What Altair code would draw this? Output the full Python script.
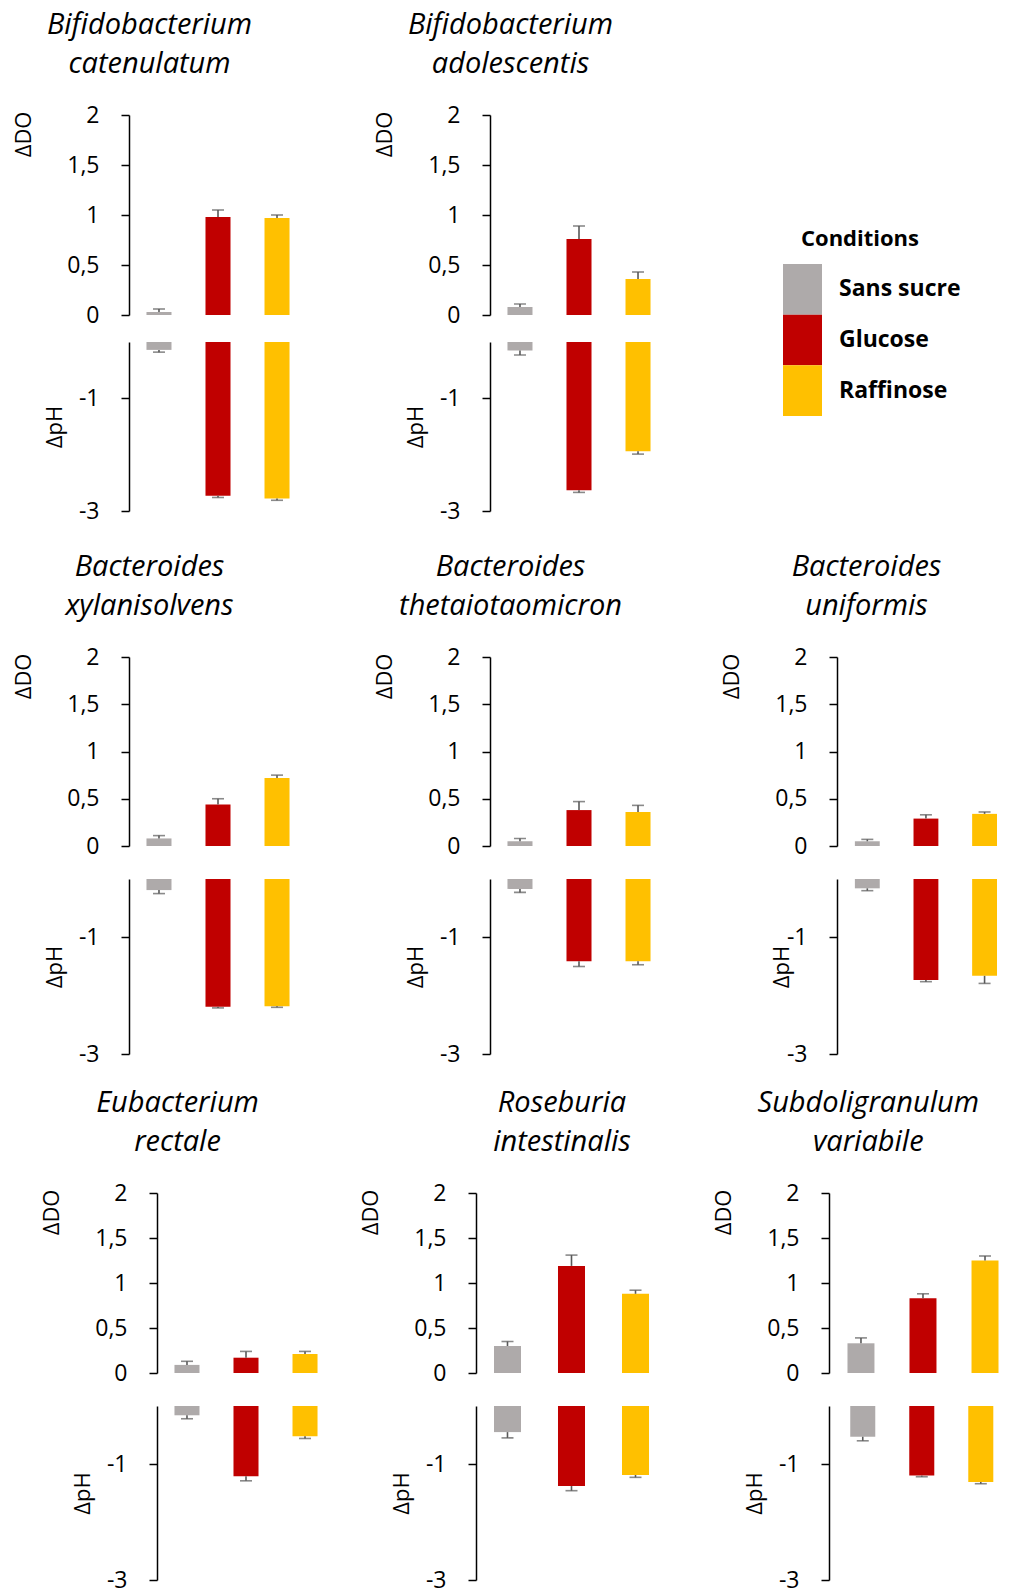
import altair as alt
import pandas as pd

# ---------------- data ----------------
title_line1 = ["Bifidobacterium", "Bifidobacterium", "Bacteroides", "Bacteroides",
               "Bacteroides", "Eubacterium", "Roseburia", "Subdoligranulum"]
title_line2 = ["catenulatum", "adolescentis", "xylanisolvens", "thetaiotaomicron",
               "uniformis", "rectale", "intestinalis", "variabile"]
conditions = ["Sans sucre", "Glucose", "Raffinose"]
colors = ["#AEAAAA", "#C00000", "#FFC000"]

do_sans_sucre = [0.03, 0.08, 0.08, 0.05, 0.05, 0.09, 0.30, 0.33]
do_glucose = [0.98, 0.76, 0.44, 0.38, 0.29, 0.17, 1.19, 0.83]
do_raffinose = [0.97, 0.36, 0.72, 0.36, 0.34, 0.21, 0.88, 1.25]
do_err_sans_sucre = [0.03, 0.03, 0.03, 0.03, 0.02, 0.04, 0.05, 0.06]
do_err_glucose = [0.07, 0.13, 0.06, 0.09, 0.04, 0.07, 0.12, 0.05]
do_err_raffinose = [0.03, 0.07, 0.03, 0.07, 0.02, 0.03, 0.04, 0.05]

ph_sans_sucre = [-0.14, -0.15, -0.19, -0.17, -0.16, -0.16, -0.45, -0.53]
ph_glucose = [-2.73, -2.63, -2.19, -1.41, -1.73, -1.21, -1.38, -1.20]
ph_raffinose = [-2.78, -1.94, -2.18, -1.41, -1.66, -0.52, -1.19, -1.31]
ph_err_sans_sucre = [0.04, 0.08, 0.06, 0.06, 0.04, 0.06, 0.10, 0.07]
ph_err_glucose = [0.03, 0.04, 0.02, 0.09, 0.03, 0.08, 0.08, 0.02]
ph_err_raffinose = [0.03, 0.05, 0.02, 0.06, 0.13, 0.04, 0.04, 0.03]

# ---------------- table ----------------
rows = []
series = [
    (conditions[0], do_sans_sucre, do_err_sans_sucre, ph_sans_sucre, ph_err_sans_sucre),
    (conditions[1], do_glucose, do_err_glucose, ph_glucose, ph_err_glucose),
    (conditions[2], do_raffinose, do_err_raffinose, ph_raffinose, ph_err_raffinose),
]
for i in range(len(title_line1)):
    for cond, dv, de, pv, pe in series:
        rows.append({"sp": i, "condition": cond, "do": dv[i], "do_hi": dv[i] + de[i],
                     "ph": pv[i], "ph_lo": pv[i] - pe[i]})
df = pd.DataFrame(rows)

FONT = "Open Sans"
ERR = "#595959"
NOVIEW = alt.ViewBackground(stroke="transparent", strokeWidth=0)

color_enc = alt.Color("condition:N", scale=alt.Scale(domain=conditions, range=colors), legend=None)

# per-panel layout tweaks (pixels / band-scale settings)
title_dx = {0: -10, 1: -10, 2: -10, 3: -10, 4: 8, 5: -10, 6: 49, 7: 13}
ph_title_x = {4: -44}
STD = dict(width=178, pad_inner=0.576, pad_outer=0.296, align=0.5)
COL3 = dict(width=160, pad_inner=0.576, pad_outer=0.1525, align=1)
WIDE = dict(width=191, pad_inner=0.578, pad_outer=0.281, align=0.5)
SUB_DO = dict(width=169.5, pad_inner=0.565, pad_outer=0.149, align=1)
SUB_PH = dict(width=164.3, pad_inner=0.576, pad_outer=0.18, align=1)


def axis_common(**kw):
    base = dict(grid=False, tickSize=8, tickWidth=1.5, domainWidth=1.5,
                domainColor="black", tickColor="black", labelColor="black",
                titleColor="black", labelFont=FONT, titleFont=FONT,
                labelFontSize=23, titleFontSize=22, titleFontWeight="normal",
                labelPadding=22, titleAngle=-90, titleBaseline="bottom")
    base.update(kw)
    return alt.Axis(**base)


def xenc(g):
    xs = alt.Scale(domain=conditions, paddingInner=g["pad_inner"],
                   paddingOuter=g["pad_outer"], align=g["align"])
    return alt.X("condition:N", scale=xs, axis=None, sort=conditions)


def do_panel(i, h, g=STD):
    base = alt.Chart(df).transform_filter(alt.datum.sp == i)
    x = xenc(g)
    do_axis = axis_common(values=[0, 0.5, 1, 1.5, 2],
                          labelExpr="replace(format(datum.value, '~g'), '.', ',')",
                          title="ΔDO", titleX=-94, titleY=-4, titleAlign="right")
    sc = alt.Scale(domain=[0, 2], nice=False, zero=True)
    bar = base.mark_bar().encode(x=x, y=alt.Y("do:Q", scale=sc, axis=do_axis), color=color_enc)
    rule = base.mark_rule(color=ERR, strokeWidth=1.6).encode(
        x=x, y=alt.Y("do:Q", scale=sc, axis=do_axis), y2="do_hi:Q")
    cap = base.mark_tick(color=ERR, orient="horizontal", size=12, thickness=1.6).encode(
        x=x, y=alt.Y("do_hi:Q", scale=sc, axis=do_axis))
    return alt.layer(bar, rule, cap).properties(
        width=g["width"], height=h, view=NOVIEW,
        title=alt.TitleParams(text=title_line1[i], subtitle=title_line2[i],
                              font=FONT, fontSize=29, fontStyle="italic", fontWeight="normal",
                              color="black", subtitleFont=FONT, subtitleFontSize=29,
                              subtitleFontStyle="italic", subtitleColor="black",
                              subtitlePadding=10.5, anchor="middle", frame="bounds",
                              offset=25, dx=title_dx[i]))


def ph_panel(i, h, g=STD):
    base = alt.Chart(df).transform_filter(alt.datum.sp == i)
    x = xenc(g)
    ph_axis = axis_common(values=[-1, -3],
                          labelExpr="replace(format(datum.value, '~g'), '\u2212', '-')",
                          title="ΔpH", titleX=ph_title_x.get(i, -63), titleAnchor="middle")
    sc = alt.Scale(domain=[-3, 0], nice=False)
    pbar = base.mark_bar().encode(x=x, y=alt.Y("ph:Q", scale=sc, axis=ph_axis), color=color_enc)
    prule = base.mark_rule(color=ERR, strokeWidth=1.6).encode(
        x=x, y=alt.Y("ph:Q", scale=sc, axis=ph_axis), y2="ph_lo:Q")
    pcap = base.mark_tick(color=ERR, orient="horizontal", size=12, thickness=1.6).encode(
        x=x, y=alt.Y("ph_lo:Q", scale=sc, axis=ph_axis))
    return alt.layer(pbar, prule, pcap).properties(width=g["width"], height=h, view=NOVIEW)


spacer_df = pd.DataFrame({"s": [0]})


def sp(w, h):
    return alt.Chart(spacer_df).mark_point(opacity=0).encode(
        x=alt.value(0), y=alt.value(0)).properties(width=w, height=h, view=NOVIEW)


# legend block (first row, third column)
LEG_DY = 149
LEG_DX = -54
leg_df = pd.DataFrame({"condition": conditions})
ly = alt.Y("condition:N", sort=conditions, axis=None,
           scale=alt.Scale(domain=conditions, paddingInner=0, paddingOuter=0))
leg_rect = alt.Chart(leg_df).mark_rect(yOffset=LEG_DY, y2Offset=LEG_DY,
                                       xOffset=LEG_DX, x2Offset=LEG_DX).encode(
    y=ly, x=alt.value(0), x2=alt.value(39), color=color_enc)
leg_text = alt.Chart(leg_df).mark_text(align="left", baseline="middle", font=FONT,
                                       fontWeight="bold", fontSize=23, color="black",
                                       yOffset=LEG_DY, xOffset=LEG_DX).encode(
    y=ly, x=alt.value(56), text="condition:N")
legend = alt.layer(leg_rect, leg_text).properties(
    width=160, height=152, view=NOVIEW,
    title=alt.TitleParams("Conditions", font=FONT, fontSize=22, fontWeight="bold", color="black",
                          anchor="start", dx=18 + LEG_DX, dy=LEG_DY, offset=13, frame="group"))

NC = 6


def gap_row(h):
    return [sp(1, h) for _ in range(NC)]


# rows 1 and 2 share one grid
L12 = 118
g12 = []
g12 += [sp(L12, 1), do_panel(0, 200), sp(183, 1), do_panel(1, 200), sp(169, 1), legend]
g12 += gap_row(27)
g12 += [sp(L12, 1), ph_panel(0, 169), sp(183, 1), ph_panel(1, 169), sp(169, 1), sp(1, 1)]
g12 += gap_row(146)
g12 += [sp(L12, 1), do_panel(2, 189), sp(183, 1), do_panel(3, 189), sp(169, 1), do_panel(4, 189, COL3)]
g12 += gap_row(33)
g12 += [sp(L12, 1), ph_panel(2, 175), sp(183, 1), ph_panel(3, 175), sp(169, 1), ph_panel(4, 175, COL3)]
grid12 = alt.concat(*g12, columns=NC, spacing=0, bounds="flush", align="each")

# row 3 has its own column positions
L3 = 146
g3 = []
g3 += [sp(L3, 1), do_panel(5, 180), sp(141, 1), do_panel(6, 180, WIDE), sp(162, 1), do_panel(7, 180, SUB_DO)]
g3 += gap_row(33)
g3 += [sp(L3, 1), ph_panel(5, 174), sp(141, 1), ph_panel(6, 174, WIDE), sp(162, 1), ph_panel(7, 174, SUB_PH)]
grid3 = alt.concat(*g3, columns=NC, spacing=0, bounds="flush", align="each")

chart = alt.vconcat(grid12, grid3, spacing=22).properties(
    padding={"left": 0, "top": 2, "right": 0, "bottom": 0}
).configure(font=FONT, view=alt.ViewConfig(stroke="transparent", strokeWidth=0))

chart.save("out.html", embed_options={"renderer": "svg", "actions": False})
